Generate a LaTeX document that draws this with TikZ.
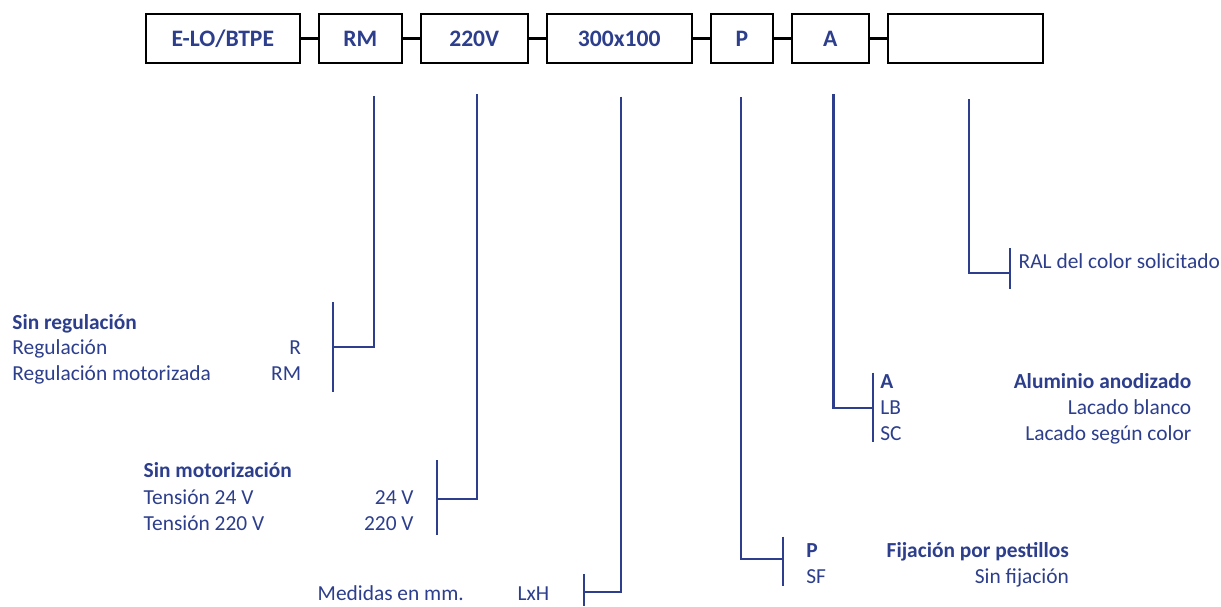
\documentclass[tikz,border=0pt]{standalone}
\usepackage{fontspec}
\setmainfont{Carlito}
\definecolor{navy}{RGB}{44,62,140}
\begin{document}
\begin{tikzpicture}[x=0.5pt,y=-0.5pt,
 box/.style={draw=black,line width=1pt,minimum height=24.35pt,inner sep=0pt,font=\bfseries\fontsize{11.8}{14}\selectfont,text=navy},
 link/.style={line width=1.6pt,black},
 lead/.style={navy,line width=1.15pt},
 txt/.style={inner sep=0pt,text=navy,font=\fontsize{10.7}{13}\selectfont},
 btxt/.style={txt,font=\bfseries\fontsize{10.7}{13}\selectfont},
]
\useasboundingbox (0,0) rectangle (1221,606);
% boxes
\node[box,minimum width=77.15pt] (b1) at (222.85,38.35) {E-LO/BTPE};
\node[box,minimum width=41.35pt] (b2) at (360.35,38.35) {RM};
\node[box,minimum width=53.5pt]  (b3) at (474.2,38.35) {220V};
\node[box,minimum width=72.5pt]  (b4) at (619.2,38.35) {300x100};
\node[box,minimum width=30.85pt] (b5) at (741.85,38.35) {P};
\node[box,minimum width=38.35pt] (b6) at (830.35,38.35) {A};
\node[box,minimum width=77.2pt]  (b7) at (965.5,38.35) {};
\draw[link] (b1.east) -- (b2.west);
\draw[link] (b2.east) -- (b3.west);
\draw[link] (b3.east) -- (b4.west);
\draw[link] (b4.east) -- (b5.west);
\draw[link] (b5.east) -- (b6.west);
\draw[link] (b6.east) -- (b7.west);
% RM
\coordinate (rmT) at (374,96);
\coordinate (rmJ) at (333,347);
\coordinate (rmA) at (333,302);
\coordinate (rmB) at (333,392);
\draw[lead] (rmT) |- (rmJ);
\draw[lead] (rmA) -- (rmB);
\node[btxt,anchor=base west] (r0) at (12,329.3) {Sin regulación};
\node[txt,anchor=base west] (r1) at (12,354.5) {Regulación};
\node[txt,anchor=base west] (r2) at (12,380.5) {Regulación motorizada};
\node[txt,anchor=base east] (r1c) at (301.5,354.5) {R};
\node[txt,anchor=base east] (r2c) at (301.5,380.5) {RM};
% 220V
\coordinate (vT) at (477,94);
\coordinate (vJ) at (437.3,499);
\coordinate (vA) at (437.3,460);
\coordinate (vB) at (437.3,535);
\draw[lead] (vT) |- (vJ);
\draw[lead] (vA) -- (vB);
\node[btxt,anchor=base west] (v0) at (143.3,477.3) {Sin motorización};
\node[txt,anchor=base west] (v1) at (143.3,504.3) {Tensión 24 V};
\node[txt,anchor=base west] (v2) at (143.3,530.3) {Tensión 220 V};
\node[txt,anchor=base east] (v1c) at (414,504.3) {24 V};
\node[txt,anchor=base east] (v2c) at (414,530.3) {220 V};
% 300x100
\coordinate (mT) at (621,96.7);
\coordinate (mJ) at (584,592.3);
\coordinate (mA) at (584,574.3);
\coordinate (mB) at (584,606);
\draw[lead] (mT) |- (mJ);
\draw[lead] (mA) -- (mB);
\node[txt,anchor=base west] (m0) at (317.3,600.7) {Medidas en mm.};
\node[txt,anchor=base west] (m0c) at (517.3,600.7) {LxH};
% P
\coordinate (pT) at (741,97);
\coordinate (pJ) at (783.3,559.3);
\coordinate (pA) at (783.3,536.7);
\coordinate (pB) at (783.3,585.7);
\draw[lead] (pT) |- (pJ);
\draw[lead] (pA) -- (pB);
\node[btxt,anchor=base west] (p0) at (806,557.3) {P};
\node[txt,anchor=base west] (p1) at (806,583.3) {SF};
\node[btxt,anchor=base east] (p0d) at (1069.3,557.3) {Fijación por pestillos};
\node[txt,anchor=base east] (p1d) at (1069.3,583.3) {Sin fijación};
% A
\coordinate (aT) at (833.5,94);
\coordinate (aJ) at (872.7,408.3);
\coordinate (aA) at (872.7,372.7);
\coordinate (aB) at (872.7,441.7);
\draw[lead] (aT) |- (aJ);
\draw[lead] (aA) -- (aB);
\node[btxt,anchor=base west] (a0) at (880,388.3) {A};
\node[txt,anchor=base west] (a1) at (880,414.3) {LB};
\node[txt,anchor=base west] (a2) at (880,440.3) {SC};
\node[btxt,anchor=base east] (a0d) at (1191.7,388.3) {Aluminio anodizado};
\node[txt,anchor=base east] (a1d) at (1191.7,414.3) {Lacado blanco};
\node[txt,anchor=base east] (a2d) at (1191.7,440.3) {Lacado según color};
% blank
\coordinate (cT) at (969.3,99);
\coordinate (cJ) at (1010,273.3);
\coordinate (cA) at (1010,248.3);
\coordinate (cB) at (1010,289.3);
\draw[lead] (cT) |- (cJ);
\draw[lead] (cA) -- (cB);
\node[txt,anchor=base west] (c0) at (1018.3,268.3) {RAL del color solicitado};
\end{tikzpicture}
\end{document}
